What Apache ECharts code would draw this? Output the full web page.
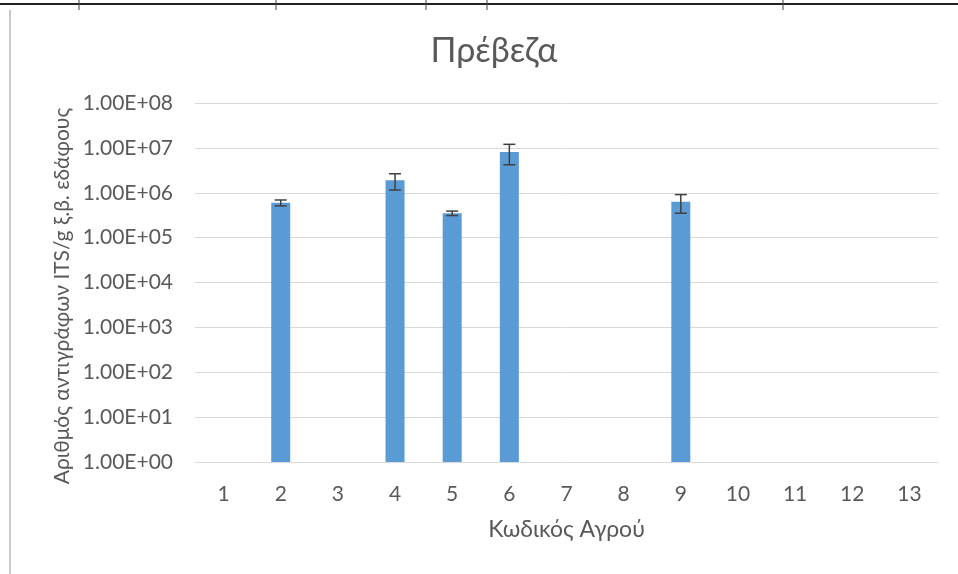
<!DOCTYPE html>
<html><head><meta charset="utf-8">
<script src="https://cdn.jsdelivr.net/npm/echarts@6/dist/echarts.min.js"></script>
<style>html,body{margin:0;padding:0;background:#fff}#c{width:958px;height:574px}</style>
</head><body><div id="c"></div>
<script>
const categories = ['1','2','3','4','5','6','7','8','9','10','11','12','13'];
const values = [null, 6.0e5, null, 1.9e6, 3.5e5, 8.1e6, null, null, 6.3e5, null, null, null, null];
const errors = [null, 0.9e5, null, 0.75e6, 0.4e5, 3.9e6, null, null, 2.8e5, null, null, null, null];
const title = 'Πρέβεζα';
const xName = 'Κωδικός Αγρού';
const yName = 'Αριθμός αντιγράφων ITS/g ξ.β. εδάφους';

const errData = [];
values.forEach((v, i) => { if (v != null) errData.push([i, v - errors[i], v + errors[i]]); });

const chart = echarts.init(document.getElementById('c'));
const font = 'Lato';
const grey = '#595959';
chart.setOption({
  animation: false,
  backgroundColor: '#fff',
  title: { text: title, left: 489, top: 29, textAlign: 'center',
    textStyle: { fontFamily: font, fontSize: 34, fontWeight: 'normal', color: grey } },
  grid: { left: 195, right: 20, top: 103, bottom: 112 },
  xAxis: {
    type: 'category', data: categories,
    name: xName, nameLocation: 'middle', nameGap: 56,
    nameTextStyle: { fontFamily: font, fontSize: 23, color: grey },
    axisLine: { lineStyle: { color: '#d9d9d9' } },
    axisTick: { show: false },
    axisLabel: { fontFamily: font, fontSize: 21, color: grey, margin: 22 }
  },
  yAxis: {
    type: 'log', logBase: 10, min: 1, max: 1e8,
    axisLine: { show: false }, axisTick: { show: false },
    splitLine: { lineStyle: { color: '#d9d9d9', width: 1 } },
    axisLabel: { fontFamily: font, fontSize: 21, color: grey, margin: 22,
      formatter: v => { const e = Math.round(Math.log10(v)); return '1.00E+' + (e < 10 ? '0' : '') + e; } }
  },
  series: [
    { type: 'bar', data: values, barWidth: 19, itemStyle: { color: '#5b9bd5' } },
    { type: 'custom', data: errData, z: 5,
      renderItem: (params, api) => {
        const x = api.value(0);
        const lo = api.coord([x, api.value(1)]);
        const hi = api.coord([x, api.value(2)]);
        const w = 6;
        const st = { stroke: '#404040', lineWidth: 1.5 };
        return { type: 'group', children: [
          { type: 'line', shape: { x1: hi[0], y1: hi[1], x2: lo[0], y2: lo[1] }, style: st },
          { type: 'line', shape: { x1: hi[0]-w, y1: hi[1], x2: hi[0]+w, y2: hi[1] }, style: st },
          { type: 'line', shape: { x1: lo[0]-w, y1: lo[1], x2: lo[0]+w, y2: lo[1] }, style: st }
        ]};
      }
    }
  ],
  graphic: [
    { type: 'text', x: 62, y: 296, rotation: Math.PI / 2,
      style: { text: yName, fontFamily: font, fontSize: 21, fill: grey, align: 'center', verticalAlign: 'middle' } },
    { type: 'line', shape: { x1: 0, y1: 4, x2: 958, y2: 4 }, style: { stroke: '#222', lineWidth: 2 } },
    { type: 'line', shape: { x1: 10, y1: 10, x2: 10, y2: 574 }, style: { stroke: '#c8c8c8', lineWidth: 2 } },
    { type: 'line', shape: { x1: 79, y1: 0, x2: 79, y2: 10 }, style: { stroke: '#444', lineWidth: 1 } },
    { type: 'line', shape: { x1: 276, y1: 0, x2: 276, y2: 10 }, style: { stroke: '#444', lineWidth: 1 } },
    { type: 'line', shape: { x1: 426, y1: 0, x2: 426, y2: 10 }, style: { stroke: '#444', lineWidth: 1 } },
    { type: 'line', shape: { x1: 487, y1: 0, x2: 487, y2: 10 }, style: { stroke: '#444', lineWidth: 1 } },
    { type: 'line', shape: { x1: 783, y1: 0, x2: 783, y2: 10 }, style: { stroke: '#444', lineWidth: 1 } }
  ]
});
</script></body></html>
